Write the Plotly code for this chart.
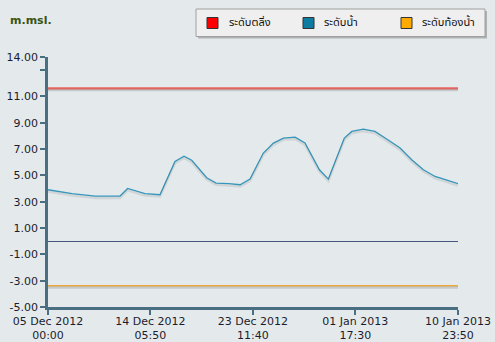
import plotly.graph_objects as go

# ---- data ----
times = [
    "2012-12-05 00:00", "2012-12-07 04:00", "2012-12-09 06:00", "2012-12-11 12:00",
    "2012-12-12 04:30", "2012-12-13 18:00", "2012-12-15 02:30", "2012-12-16 11:00",
    "2012-12-17 06:30", "2012-12-17 23:20", "2012-12-19 07:40", "2012-12-20 04:00",
    "2012-12-21 08:00", "2012-12-22 08:00", "2012-12-23 05:30", "2012-12-24 10:20",
    "2012-12-25 08:10", "2012-12-26 05:45", "2012-12-27 07:00", "2012-12-28 04:30",
    "2012-12-29 11:45", "2012-12-30 07:10", "2012-12-31 17:45", "2013-01-01 09:50",
    "2013-01-02 10:50", "2013-01-03 12:00", "2013-01-04 10:05", "2013-01-05 18:30",
    "2013-01-06 19:40", "2013-01-07 20:50", "2013-01-08 22:20", "2013-01-10 03:10",
    "2013-01-10 23:50",
]
water_level = [
    3.91, 3.61, 3.43, 3.43, 4.01, 3.61, 3.53, 6.06, 6.46, 6.15, 4.82, 4.42,
    4.37, 4.29, 4.72, 6.70, 7.46, 7.84, 7.91, 7.46, 5.43, 4.72, 7.84, 8.34,
    8.52, 8.34, 7.84, 7.08, 6.19, 5.43, 4.92, 4.62, 4.37,
]
bank_level = 11.62
bed_level = -3.38
range_start = "2012-12-05 00:00"
range_end = "2013-01-10 23:50"

series_names = ["ระดับตลิ่ง", "ระดับน้ำ", "ระดับท้องน้ำ"]
series_colors = ["#ff0000", "#0e7ba1", "#ffaa00"]
line_colors = ["#ea6461", "#3597bd", "#eca83a"]

x_tickvals = ["2012-12-05 00:00", "2012-12-14 05:50", "2012-12-23 11:40",
              "2013-01-01 17:30", "2013-01-10 23:50"]
x_ticktext = ["05 Dec 2012<br>00:00", "14 Dec 2012<br>05:50", "23 Dec 2012<br>11:40",
              "01 Jan 2013<br>17:30", "10 Jan 2013<br>23:50"]
y_tickvals = [-5, -3, -1, 1, 3, 5, 7, 9, 11, 13, 14]
y_ticktext = ["-5.00", "-3.00", "-1.00", "1.00", "3.00", "5.00", "7.00", "9.00",
              "11.00", "", "14.00"]

BG = "#e4eaec"
AX = "#4b6f82"
y_range = [-5, 14]

W, H = 495, 342
ML, MR, MT, MB = 48, 37, 57, 35
PW, PH = W - ML - MR, H - MT - MB


def px(xp):
    return (xp - ML) / PW


def py(yp):
    return (H - MB - yp) / PH


fig = go.Figure()
flat_x = [range_start, range_end]

# shadows (same data drawn on offset overlay axes)
for xs, ys, op in [(flat_x, [bank_level, bank_level], 0.22), (times, water_level, 0.14),
                   (flat_x, [bed_level, bed_level], 0.22)]:
    fig.add_trace(go.Scatter(x=xs, y=ys, mode="lines",
                             line=dict(color=f"rgba(90,90,90,{op})", width=2.5),
                             xaxis="x2", yaxis="y2", showlegend=False, hoverinfo="skip"))

# main lines
fig.add_trace(go.Scatter(x=flat_x, y=[bank_level, bank_level], mode="lines",
                         name=series_names[0],
                         line=dict(color=line_colors[0], width=2.2), showlegend=False))
fig.add_trace(go.Scatter(x=times, y=water_level, mode="lines", name=series_names[1],
                         line=dict(color=line_colors[1], width=1.3), showlegend=False))
fig.add_trace(go.Scatter(x=flat_x, y=[bed_level, bed_level], mode="lines",
                         name=series_names[2],
                         line=dict(color=line_colors[2], width=1.6), showlegend=False))

dy = 1.8 / (PH / (y_range[1] - y_range[0]))

# custom legend (box, squares, labels)
shapes = [
    dict(type="rect", xref="paper", yref="paper", x0=px(198), x1=px(487),
         y0=py(38.5), y1=py(11), fillcolor="rgba(110,110,110,0.45)",
         line=dict(width=0), layer="below"),
    dict(type="rect", xref="paper", yref="paper", x0=px(196), x1=px(485),
         y0=py(36.5), y1=py(9), fillcolor="#efefef",
         line=dict(color="#a0a0a0", width=1), layer="below"),
]
annotations = [dict(text="<b>m.msl.</b>", xref="paper", yref="paper",
                    x=px(8), y=py(20), xanchor="left", yanchor="middle",
                    showarrow=False,
                    font=dict(size=11, color="#3a5410",
                              family="DejaVu Sans, Verdana, sans-serif"))]
sq_left = [207, 303, 401]
txt_left = [227, 322, 420]
for name, col, sl, tl in zip(series_names, series_colors, sq_left, txt_left):
    shapes.append(dict(type="rect", xref="paper", yref="paper",
                       x0=px(sl), x1=px(sl + 11), y0=py(28.5), y1=py(17.5),
                       fillcolor=col, line=dict(color="#333", width=1), layer="above"))
    annotations.append(dict(text=name, xref="paper", yref="paper", x=px(tl), y=py(22.5),
                            xanchor="left", yanchor="middle", showarrow=False,
                            font=dict(size=11, color="#111",
                                      family="Noto Sans Thai, Noto Sans, DejaVu Sans, sans-serif")))

fig.update_layout(
    width=W, height=H,
    margin=dict(l=ML, r=MR, t=MT, b=MB, autoexpand=False),
    paper_bgcolor=BG, plot_bgcolor=BG,
    showlegend=False,
    font=dict(family="DejaVu Sans, Verdana, sans-serif", size=11, color="#1c1c2c"),
    xaxis=dict(type="date", range=[range_start, range_end], tickvals=x_tickvals,
               ticktext=x_ticktext, showgrid=False, zeroline=False, automargin=False,
               showline=True, linecolor=AX, linewidth=2.5,
               ticks="outside", ticklen=5, tickwidth=2, tickcolor=AX,
               ticklabelstandoff=-3,
               tickfont=dict(size=11, color="#1c1c2c")),
    yaxis=dict(range=y_range, tickvals=y_tickvals, ticktext=y_ticktext,
               showgrid=False, zeroline=True, zerolinecolor="#44567e", zerolinewidth=1,
               automargin=False,
               showline=True, linecolor=AX, linewidth=2.5,
               ticks="outside", ticklen=5, tickwidth=2, tickcolor=AX,
               tickfont=dict(size=11, color="#1c1c2c")),
    xaxis2=dict(type="date", range=[range_start, range_end], overlaying="x",
                visible=False),
    yaxis2=dict(range=[y_range[0] + dy, y_range[1] + dy], overlaying="y",
                visible=False),
    shapes=shapes,
    annotations=annotations,
)

fig.write_html("out.html")
